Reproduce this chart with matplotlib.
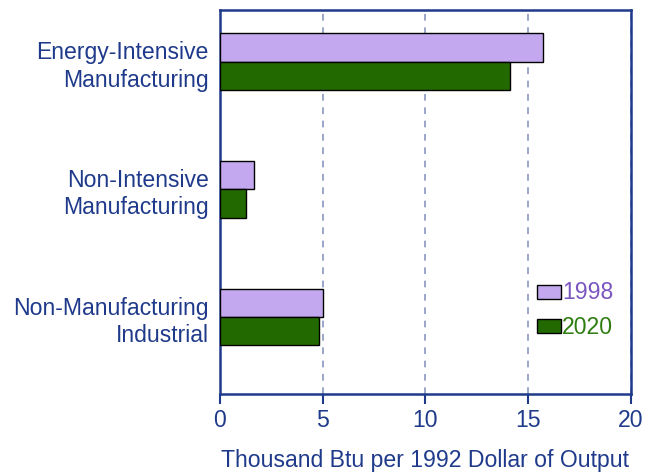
import matplotlib
matplotlib.use("Agg")
import matplotlib.pyplot as plt
import numpy as np

plt.rcParams['font.family'] = ['Liberation Sans', 'DejaVu Sans']

categories = ["Energy-Intensive\nManufacturing",
              "Non-Intensive\nManufacturing",
              "Non-Manufacturing\nIndustrial"]
v1998 = [15.7, 1.67, 5.03]
v2020 = [14.1, 1.25, 4.8]

navy = "#1f3a8a"
purple = "#c3a8f0"
green = "#226a00"
fs = 16.6

fig = plt.figure(figsize=(6.59, 4.73), dpi=100)
ax = fig.add_axes([0.3338, 0.167, 0.6237, 0.811])

y = np.arange(len(categories)) + 0.4
h = 0.22
ax.barh(y - h/2, v1998, height=h, color=purple, edgecolor="black", linewidth=1, zorder=3)
ax.barh(y + h/2, v2020, height=h, color=green, edgecolor="black", linewidth=1, zorder=3)

ax.set_xlim(0, 20)
ax.set_ylim(3, 0)
ax.set_xticks([0, 5, 10, 15, 20])
ax.set_yticks(y)
ax.set_yticklabels(categories, ha="right", multialignment="right", linespacing=1.25)
ax.tick_params(axis="y", length=0, pad=8, labelsize=fs, labelcolor=navy)
ax.tick_params(axis="x", length=7, width=1.5, color=navy, labelsize=fs,
               labelcolor=navy, pad=4)
for s in ax.spines.values():
    s.set_color(navy)
    s.set_linewidth(1.8)
ax.xaxis.grid(True, linestyle=(0, (4, 4)), color="#8a96c0", linewidth=1.2, zorder=0)
ax.set_xlabel("Thousand Btu per 1992 Dollar of Output", color=navy, fontsize=fs,
              labelpad=12)

# legend
ax.barh(2.20, 1.15, height=0.11, left=15.45, color=purple, edgecolor="black", linewidth=1, zorder=3)
ax.barh(2.47, 1.15, height=0.11, left=15.45, color=green, edgecolor="black", linewidth=1, zorder=3)
ax.text(16.65, 2.21, "1998", color="#7a55c0", fontsize=fs, va="center", ha="left")
ax.text(16.65, 2.48, "2020", color="#2e7d10", fontsize=fs, va="center", ha="left")

fig.savefig("out.png", dpi=100)
